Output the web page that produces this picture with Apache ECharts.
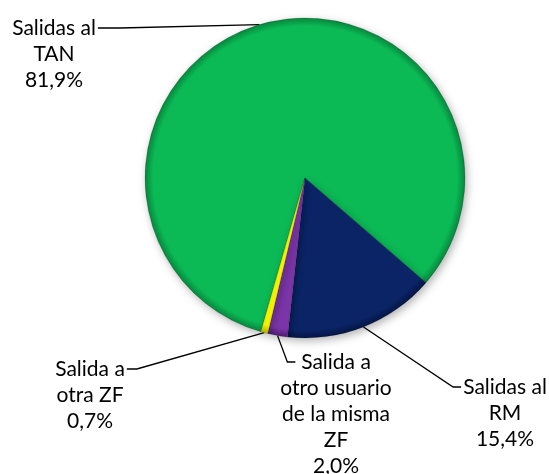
<!DOCTYPE html>
<html>
<head>
<meta charset="utf-8">
<script src="https://cdn.jsdelivr.net/npm/echarts@6/dist/echarts.min.js"></script>
<style>
  html, body { margin: 0; background: #fff; }
  #chart { width: 549px; height: 474px; }
</style>
</head>
<body>
<div id="chart"></div>
<script>
const categories = ['Salidas al\nTAN', 'Salidas al\nRM', 'Salida a\notro usuario\nde la misma\nZF', 'Salida a\notra ZF'];
const shares = [81.9, 15.4, 2.0, 0.7];
const sliceColors = ['#0BB955', '#0A2466', '#7B35A8', '#F2F200'];
const rimColors = ['#07863d', '#051545', '#4e1b72', '#b0b000'];

// label placement: centre x / first line y, and which side the leader line joins
const labelSpots = [
  { x: 54, y: 28, side: 'right', elbow: 22, inset: 0 },
  { x: 505, y: 387, side: 'left', elbow: 8, inset: 0 },
  { x: 336, y: 362, side: 'left', elbow: 8, inset: 17 },
  { x: 90, y: 369, side: 'right', elbow: 10, inset: 0 }
];

const cx = 305, cy = 178, r = 160;
const lineH = 26;

function rimGradient(i) {
  return {
    type: 'radial', x: cx, y: cy, r: r, global: true,
    colorStops: [
      { offset: 0, color: sliceColors[i] },
      { offset: 0.95, color: sliceColors[i] },
      { offset: 1, color: rimColors[i] }
    ]
  };
}

const chart = echarts.init(document.getElementById('chart'));
chart.setOption({
  animation: false,
  series: [{
    type: 'pie',
    center: [cx, cy],
    radius: r,
    startAngle: -106,
    clockwise: true,
    avoidLabelOverlap: false,
    emphasis: { disabled: true },
    data: categories.map((name, i) => ({
      name: name,
      value: shares[i],
      itemStyle: { color: rimGradient(i) }
    })),
    itemStyle: {
      borderColor: 'rgba(0,0,0,0.25)',
      borderWidth: 0.6,
      shadowBlur: 8,
      shadowOffsetX: 2,
      shadowOffsetY: 3,
      shadowColor: 'rgba(0,0,0,0.3)'
    },
    label: {
      show: true,
      position: 'outside',
      color: '#000',
      fontFamily: 'Lato',
      fontSize: 21,
      lineHeight: lineH,
      align: 'center',
      formatter: p => p.name + '\n' + p.value.toFixed(1).replace('.', ',') + '%'
    },
    labelLine: {
      show: true,
      length: 10,
      length2: 10,
      lineStyle: { color: '#000', width: 1.3 }
    },
    labelLayout: function (params) {
      const s = labelSpots[params.dataIndex];
      const w = params.labelRect.width;
      const start = params.labelLinePoints[0];
      let endX;
      let elbowX;
      if (s.side === 'right') {
        endX = s.x + w / 2 + 2 - s.inset;
        elbowX = endX + s.elbow;
      } else {
        endX = s.x - w / 2 - 2 + s.inset;
        elbowX = endX - s.elbow;
      }
      return {
        x: s.x,
        y: s.y - lineH / 2,
        align: 'center',
        verticalAlign: 'top',
        labelLinePoints: [start, [elbowX, s.y], [endX, s.y]]
      };
    }
  }]
});
</script>
</body>
</html>
